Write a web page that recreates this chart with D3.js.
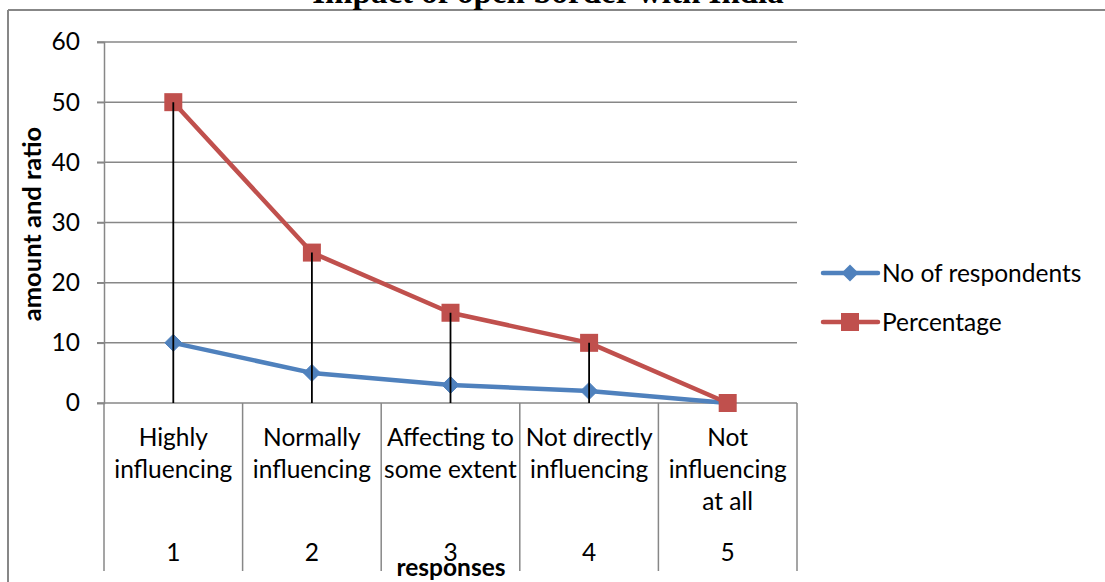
<!DOCTYPE html>
<html>
<head>
<meta charset="utf-8">
<script src="https://cdn.jsdelivr.net/npm/d3@7"></script>
<style>
  html, body { margin: 0; padding: 0; background: #fff; }
  svg { display: block; }
  text { font-family: Lato, "Noto Sans", sans-serif; fill: #000; }
</style>
</head>
<body>
<svg id="chart" width="1105" height="582"></svg>
<script>
// Survey responses: impact of the open border
const categories = ["Highly influencing", "Normally influencing", "Affecting to some extent", "Not directly influencing", "Not influencing at all"];
const categoryLines = [["Highly", "influencing"], ["Normally", "influencing"], ["Affecting to", "some extent"], ["Not directly", "influencing"], ["Not", "influencing", "at all"]];
const categoryNumbers = ["1", "2", "3", "4", "5"];
const respondents = [10, 5, 3, 2, 0];
const percentage = [50, 25, 15, 10, 0];
const yTicks = [0, 10, 20, 30, 40, 50, 60];
const seriesNames = ["No of respondents", "Percentage"];

const svg = d3.select("#chart");
const gray = "#878787";
const blue = "#4F81BD";
const red = "#C0504D";
const fs = 24.5;

const plot = { left: 104, right: 797, top: 42, bottom: 403 };

const x = d3.scaleBand().domain(categories).range([plot.left, plot.right]).paddingInner(0).paddingOuter(0);
const cx = c => x(c) + x.bandwidth() / 2;
const y = d3.scaleLinear().domain([0, 60]).range([plot.bottom, plot.top]);

// Outer frame (left and top edges)
svg.append("line").attr("x1", 8).attr("x2", 8).attr("y1", 10).attr("y2", 582)
  .attr("stroke", gray).attr("stroke-width", 2);
svg.append("line").attr("x1", 8).attr("x2", 1105).attr("y1", 10).attr("y2", 10)
  .attr("stroke", gray).attr("stroke-width", 2);

// Title
svg.append("text").attr("x", 548).attr("y", 3).attr("text-anchor", "middle")
  .style("font-family", "'Liberation Serif', 'Times New Roman', serif")
  .style("font-weight", "bold").style("font-size", "33px")
  .text("Impact of open border with India");

// Horizontal gridlines with tick marks
svg.append("g").selectAll("line").data(yTicks.filter(t => t !== 0)).join("line")
  .attr("x1", plot.left - 7).attr("x2", plot.right)
  .attr("y1", d => y(d)).attr("y2", d => y(d))
  .attr("stroke", gray).attr("stroke-width", 1.5);

// Value axis
const yAxis = d3.axisLeft(y).tickValues(yTicks).tickSize(7).tickPadding(17);
const gy = svg.append("g").attr("transform", `translate(${plot.left},0)`).call(yAxis);
gy.select(".domain").attr("stroke", gray).attr("stroke-width", 1.5);
gy.selectAll(".tick line").attr("stroke", gray).attr("stroke-width", 1.5);
gy.selectAll(".tick text").style("font-family", "Lato, sans-serif").style("font-size", fs + "px").attr("fill", "#000");

// Category axis line
svg.append("line").attr("x1", plot.left - 7).attr("x2", plot.right)
  .attr("y1", plot.bottom).attr("y2", plot.bottom)
  .attr("stroke", gray).attr("stroke-width", 1.5);

// Category dividers (two-level axis)
const bounds = categories.map(c => x(c)).concat([plot.right]);
svg.append("g").selectAll("line").data(bounds).join("line")
  .attr("x1", d => d).attr("x2", d => d)
  .attr("y1", plot.bottom).attr("y2", 571)
  .attr("stroke", gray).attr("stroke-width", 1.5);

// Category labels
const labG = svg.append("g");
categories.forEach((c, i) => {
  const t = labG.append("text").attr("x", cx(c)).attr("text-anchor", "middle").style("font-size", fs + "px");
  categoryLines[i].forEach((ln, j) => {
    t.append("tspan").attr("x", cx(c)).attr("y", 446 + j * 32).text(ln);
  });
  labG.append("text").attr("x", cx(c)).attr("y", 561).attr("text-anchor", "middle")
    .style("font-size", fs + "px").text(categoryNumbers[i]);
});

// Axis titles
svg.append("text").attr("transform", `translate(41,224) rotate(-90)`).attr("text-anchor", "middle")
  .style("font-weight", "bold").style("font-size", "25.5px").text("amount and ratio");
svg.append("text").attr("x", 451).attr("y", 576).attr("text-anchor", "middle")
  .style("font-weight", "bold").style("font-size", fs + "px").text("responses");

// Series
const line = d3.line().x(d => cx(d.c)).y(d => y(d.v));
const resData = categories.map((c, i) => ({ c, v: respondents[i] }));
const pctData = categories.map((c, i) => ({ c, v: percentage[i] }));

const diamond = s => `M0,${-s}L${s},0L0,${s}L${-s},0Z`;

svg.append("path").datum(resData).attr("d", line).attr("fill", "none")
  .attr("stroke", blue).attr("stroke-width", 4.5).attr("stroke-linejoin", "round").attr("stroke-linecap", "round");
svg.append("g").selectAll("path").data(resData).join("path")
  .attr("transform", d => `translate(${cx(d.c)},${y(d.v)})`)
  .attr("d", diamond(8.5)).attr("fill", blue).attr("stroke", blue).attr("stroke-width", 1);

svg.append("path").datum(pctData).attr("d", line).attr("fill", "none")
  .attr("stroke", red).attr("stroke-width", 4.5).attr("stroke-linejoin", "round").attr("stroke-linecap", "round");
svg.append("g").selectAll("rect").data(pctData).join("rect")
  .attr("x", d => cx(d.c) - 9).attr("y", d => y(d.v) - 9)
  .attr("width", 18).attr("height", 18).attr("fill", red);

// Drop lines from the highest value to the category axis
svg.append("g").selectAll("line").data(categories).join("line")
  .attr("x1", d => cx(d)).attr("x2", d => cx(d))
  .attr("y1", (d, i) => y(Math.max(respondents[i], percentage[i])))
  .attr("y2", y(0))
  .attr("stroke", "#000").attr("stroke-width", 1.8);

// Legend
const legend = [
  { name: seriesNames[0], color: blue, y: 273, shape: "diamond" },
  { name: seriesNames[1], color: red, y: 322, shape: "square" }
];
legend.forEach(l => {
  svg.append("line").attr("x1", 823).attr("x2", 878).attr("y1", l.y).attr("y2", l.y)
    .attr("stroke", l.color).attr("stroke-width", 4.5).attr("stroke-linecap", "round");
  if (l.shape === "diamond") {
    svg.append("path").attr("transform", `translate(850,${l.y})`).attr("d", diamond(8.5)).attr("fill", l.color);
  } else {
    svg.append("rect").attr("x", 850 - 9).attr("y", l.y - 9).attr("width", 18).attr("height", 18).attr("fill", l.color);
  }
  svg.append("text").attr("x", 882).attr("y", l.y).attr("dy", "0.35em")
    .style("font-size", fs + "px").text(l.name);
});
</script>
</body>
</html>
